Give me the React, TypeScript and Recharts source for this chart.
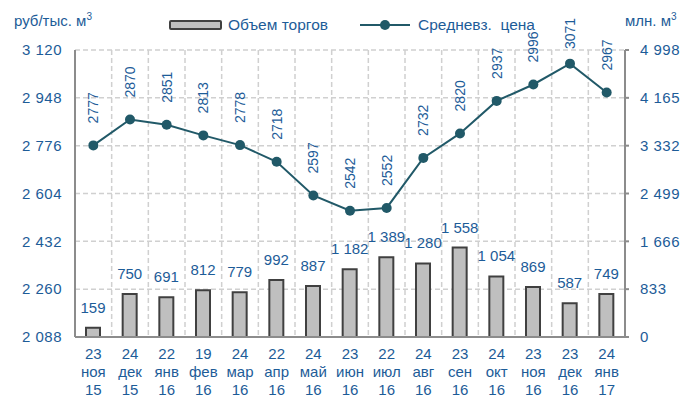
import {
  ComposedChart,
  Bar,
  Line,
  XAxis,
  YAxis,
  CartesianGrid,
  LabelList,
} from 'recharts';

const days = ['23', '24', '22', '19', '24', '22', '24', '23', '22', '24', '23', '24', '23', '23', '24'];
const months = ['ноя', 'дек', 'янв', 'фев', 'мар', 'апр', 'май', 'июн', 'июл', 'авг', 'сен', 'окт', 'ноя', 'дек', 'янв'];
const years = ['15', '15', '16', '16', '16', '16', '16', '16', '16', '16', '16', '16', '16', '16', '17'];
const volume = [159, 750, 691, 812, 779, 992, 887, 1182, 1389, 1280, 1558, 1054, 869, 587, 749];
const price = [2777, 2870, 2851, 2813, 2778, 2718, 2597, 2542, 2552, 2732, 2820, 2937, 2996, 3071, 2967];
const priceTicks = [2088, 2260, 2432, 2604, 2776, 2948, 3120];
const volumeTicks = [0, 833, 1666, 2499, 3332, 4165, 4998];

const data = days.map((d, i) => ({
  key: i,
  day: d,
  month: months[i],
  year: years[i],
  volume: volume[i],
  price: price[i],
}));

const BLUE = '#1d5c98';
const TEAL = '#215968';
const AXIS = '#8c8c8c';
const FONT = '"Liberation Sans", Arial, sans-serif';

const fmt = (v: number) => String(v).replace(/\B(?=(\d{3})+(?!\d))/g, ' ');

const DateTick = ({ x, y, payload }: any) => {
  const row = data[payload.value];
  return (
    <text x={x} y={y} textAnchor="middle" fill={BLUE} fontSize={15} fontFamily={FONT}>
      <tspan x={x} dy={14}>{row.day}</tspan>
      <tspan x={x} dy={18}>{row.month}</tspan>
      <tspan x={x} dy={18}>{row.year}</tspan>
    </text>
  );
};

const PriceLabel = ({ x, y, value }: any) => {
  const tx = x + 5;
  // keep the top label inside the chart like the original does
  const ty = Math.max(y - 22, 49);
  return (
    <text x={tx} y={ty} transform={`rotate(-90, ${tx}, ${ty})`} fill={BLUE} fontSize={14} fontFamily={FONT} textAnchor="start">
      {value}
    </text>
  );
};

const VolumeLabel = ({ x, y, width, value }: any) => (
  <text x={x + width / 2} y={y - 15} fill={BLUE} fontSize={15} fontFamily={FONT} textAnchor="middle">
    {fmt(value)}
  </text>
);

const tickStyle = { fill: BLUE, fontSize: 15, fontFamily: FONT, letterSpacing: 0.5 };

export default function App() {
  const n = data.length;
  return (
    <div style={{ position: 'absolute', left: 0, top: 0, width: 697, height: 404, background: '#fff', fontFamily: FONT, color: BLUE }}>
      <div style={{ position: 'absolute', left: 14, top: 11, fontSize: 15 }}>
        руб/тыс. м<sup style={{ fontSize: 10 }}>3</sup>
      </div>
      <div style={{ position: 'absolute', left: 625, top: 11, fontSize: 15 }}>
        млн. м<sup style={{ fontSize: 10 }}>3</sup>
      </div>
      <div style={{ position: 'absolute', left: 169, top: 16, display: 'flex', alignItems: 'center', fontSize: 15.5 }}>
        <span style={{ display: 'inline-block', width: 49, height: 6, background: '#bfbfbf', border: '2px solid #404040', borderRadius: 2, marginRight: 6 }} />
        <span style={{ marginRight: 32 }}>Объем торгов</span>
        <svg width={50} height={12} style={{ marginRight: 8 }}>
          <line x1={0} y1={6} x2={50} y2={6} stroke={TEAL} strokeWidth={2} />
          <circle cx={25} cy={6} r={5} fill={TEAL} />
        </svg>
        <span>Средневз.&nbsp; цена</span>
      </div>
      <ComposedChart width={697} height={404} data={data} margin={{ top: 50, right: 0, bottom: 0, left: 0 }}>
        <CartesianGrid
          yAxisId="left"
          stroke="#d0d0d0"
          strokeDasharray="5 3"
          strokeWidth={1.5}
          verticalCoordinatesGenerator={({ offset }: any) =>
            Array.from({ length: n + 1 }, (_, i) => offset.left + (i * offset.width) / n)
          }
        />
        <XAxis
          dataKey="key"
          height={67}
          tick={<DateTick />}
          tickLine={false}
          axisLine={{ stroke: AXIS, strokeWidth: 2 }}
          interval={0}
        />
        <YAxis
          yAxisId="left"
          width={75}
          domain={[2088, 3120]}
          ticks={priceTicks}
          tickFormatter={fmt}
          tick={tickStyle}
          tickSize={0}
          tickMargin={13}
          axisLine={{ stroke: AXIS, strokeWidth: 2 }}
          tickLine={false}
          allowDataOverflow
        />
        <YAxis
          yAxisId="right"
          orientation="right"
          width={72}
          domain={[0, 4998]}
          ticks={volumeTicks}
          tickFormatter={fmt}
          tick={{ ...tickStyle, textAnchor: 'start' }}
          tickSize={4}
          tickMargin={11}
          axisLine={{ stroke: AXIS, strokeWidth: 2 }}
          tickLine={{ stroke: AXIS, strokeWidth: 2 }}
          allowDataOverflow
        />
        <Bar yAxisId="right" dataKey="volume" fill="#bfbfbf" stroke="#404040" strokeWidth={2} barSize={14} isAnimationActive={false}>
          <LabelList dataKey="volume" content={<VolumeLabel />} />
        </Bar>
        <Line
          yAxisId="left"
          dataKey="price"
          type="linear"
          stroke={TEAL}
          strokeWidth={2}
          dot={{ r: 5, fill: TEAL, stroke: TEAL, strokeWidth: 0 }}
          isAnimationActive={false}
        >
          <LabelList dataKey="price" content={<PriceLabel />} />
        </Line>
      </ComposedChart>
    </div>
  );
}
